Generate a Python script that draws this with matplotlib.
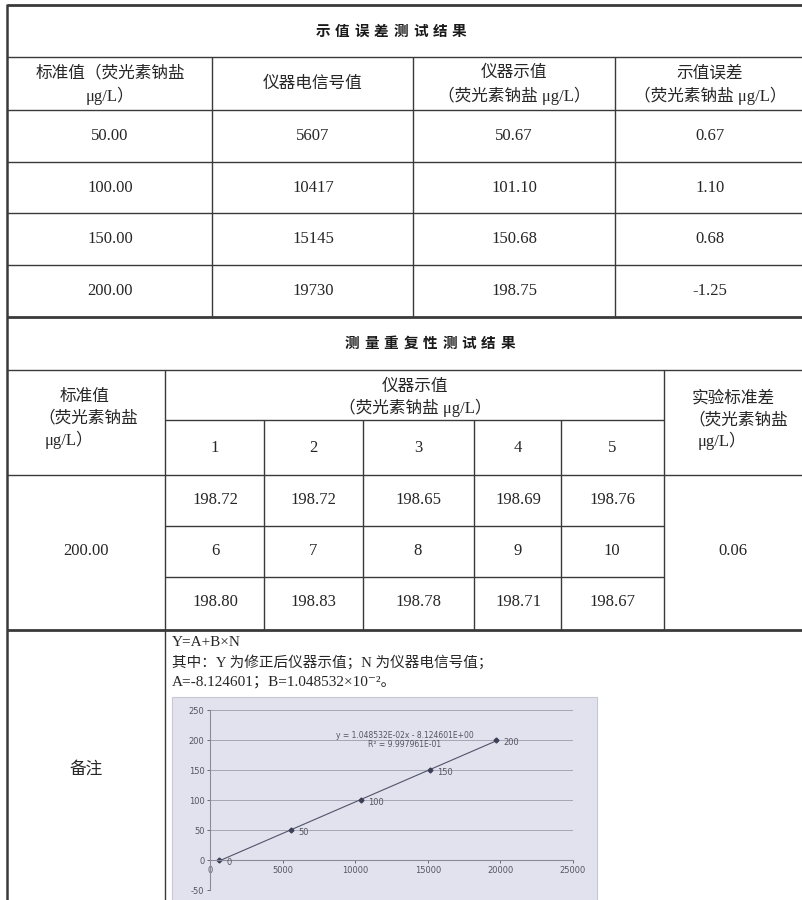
import matplotlib
matplotlib.use("Agg")
import matplotlib.pyplot as plt
from matplotlib.patches import Rectangle

W, H = 803, 900

# 示值误差测试结果
std_vals = ["50.00", "100.00", "150.00", "200.00"]
signal_vals = ["5607", "10417", "15145", "19730"]
read_vals = ["50.67", "101.10", "150.68", "198.75"]
err_vals = ["0.67", "1.10", "0.68", "-1.25"]

# 测量重复性测试结果
rep_no1 = ["1", "2", "3", "4", "5"]
rep_row1 = ["198.72", "198.72", "198.65", "198.69", "198.76"]
rep_no2 = ["6", "7", "8", "9", "10"]
rep_row2 = ["198.80", "198.83", "198.78", "198.71", "198.67"]
rep_std = "200.00"
rep_sd = "0.06"

# 校准曲线
curve_signal = [650, 5607, 10417, 15145, 19730]
curve_conc = [0, 50, 100, 150, 200]
coef_a = -8.124601
coef_b = 1.048532e-2

plt.rcParams["axes.unicode_minus"] = False

FONT = ["Liberation Serif", "Noto Sans CJK SC", "DejaVu Serif"]
INK = "#262626"
LINE = "#3a3a3a"

fig = plt.figure(figsize=(W / 100, H / 100), dpi=100)
ax = fig.add_axes([0, 0, 1, 1])
ax.set_xlim(0, W)
ax.set_ylim(H, 0)
ax.axis("off")


def hline(y, x0, x1, lw=1.0):
    ax.plot([x0, x1], [y, y], color=LINE, lw=lw, solid_capstyle="butt")


def vline(x, y0, y1, lw=1.0):
    ax.plot([x, x], [y0, y1], color=LINE, lw=lw, solid_capstyle="butt")


def txt(x, y, s, size=12, ha="center", **kw):
    ax.text(x, y, s, ha=ha, va="center", fontsize=size, color=INK,
            family=FONT, **kw)


def spaced(xc, y, s, step):
    # bold title, characters set wide apart
    x0 = xc - step * (len(s) - 1) / 2
    for i, ch in enumerate(s):
        ax.text(x0 + i * step, y, ch, ha="center", va="center", fontsize=10.5,
                fontweight="heavy", color="#1a1a1a", family=["Noto Sans CJK SC"])


# grid lines of the table
for y, lw in [(5, 2), (57, 1), (110, 1), (162, 1), (213, 1), (265, 1),
              (317, 2), (370, 1), (475, 1), (630, 2)]:
    hline(y, 7, W, lw)
hline(420, 165, 664)
hline(526, 165, 664)
hline(577, 165, 664)
vline(7, 4, H, 1.8)
for x in [212, 413, 615]:
    vline(x, 57, 317)
vline(165, 370, H)
for x in [264, 363, 474, 561]:
    vline(x, 420, 630)
vline(664, 370, 630)

# table 1
spaced(391, 31, "示值误差测试结果", 19.5)
col1 = [110, 313, 514, 710]
txt(col1[0], 73, "标准值（荧光素钠盐")
txt(col1[0], 96, "μg/L）")
txt(col1[1], 84, "仪器电信号值")
txt(col1[2], 73, "仪器示值")
txt(col1[2], 96, "（荧光素钠盐 μg/L）")
txt(col1[3], 73, "示值误差")
txt(col1[3], 96, "（荧光素钠盐 μg/L）")
row_y = [136, 188, 239, 291]
for i in range(len(std_vals)):
    txt(col1[0], row_y[i], std_vals[i])
    txt(col1[1], row_y[i], signal_vals[i])
    txt(col1[2], row_y[i], read_vals[i])
    txt(col1[3], row_y[i], err_vals[i])

# table 2
spaced(430, 343, "测量重复性测试结果", 19.5)
txt(60, 397, "标准值", ha="left")
txt(38, 418, "（荧光素钠盐", ha="left")
txt(45, 440, "μg/L）", ha="left")
txt(415, 387, "仪器示值")
txt(415, 408, "（荧光素钠盐 μg/L）")
txt(733, 399, "实验标准差")
txt(738, 420, "（荧光素钠盐")
txt(722, 441, "μg/L）")
col2 = [215, 313, 418, 518, 612]
for i in range(5):
    txt(col2[i], 448, rep_no1[i])
    txt(col2[i], 500, rep_row1[i])
    txt(col2[i], 551, rep_no2[i])
    txt(col2[i], 602, rep_row2[i])
txt(86, 551, rep_std)
txt(733, 551, rep_sd)

# notes
txt(86, 770, "备注")
txt(172, 643, "Y=A+B×N", size=11, ha="left")
txt(172, 662, "其中：Y 为修正后仪器示值；N 为仪器电信号值；", size=10.5, ha="left")
txt(172, 682, "A=%.6f；B=%.6f×10⁻²。" % (coef_a, coef_b * 100), size=11, ha="left")

# chart image in the notes cell
ax.add_patch(Rectangle((172, 697), 425, 210, facecolor="#e2e2ee",
                       edgecolor="#c8c8d4", lw=0.8, zorder=0))

cax = fig.add_axes([210 / W, (H - 890) / H, (573 - 210) / W, 180 / H])
cax.patch.set_alpha(0)
cax.set_xlim(0, 25000)
cax.set_ylim(-50, 250)
cax.set_xticks(range(0, 25001, 5000))
cax.set_yticks(range(-50, 251, 50))
cax.grid(axis="y", color="#9c9cab", lw=0.6)
cax.set_axisbelow(True)
for s in ["top", "right"]:
    cax.spines[s].set_visible(False)
cax.spines["bottom"].set_position(("data", 0))
cax.spines["bottom"].set_color("#8a8a98")
cax.spines["left"].set_color("#8a8a98")
cax.tick_params(labelsize=6, colors="#555560", length=2, width=0.6, pad=2)

x0, x1 = min(curve_signal), max(curve_signal)
cax.plot([x0, x1], [coef_b * x0 + coef_a, coef_b * x1 + coef_a],
         color="#50546a", lw=0.8)
cax.plot(curve_signal, curve_conc, ls="none", marker="D", ms=2.5,
         color="#3c3f55")
for xs, ys in zip(curve_signal, curve_conc):
    cax.annotate(str(ys), (xs, ys), xytext=(5, -2), textcoords="offset points",
                 fontsize=6, color="#555560", va="center")
cax.text(13430, 208, "y = 1.048532E-02x - 8.124601E+00", ha="center",
         va="center", fontsize=5.5, color="#555560")
cax.text(13430, 192, "R² = 9.997961E-01", ha="center", va="center",
         fontsize=5.5, color="#555560")

fig.savefig("out.png", dpi=100, facecolor="white")
